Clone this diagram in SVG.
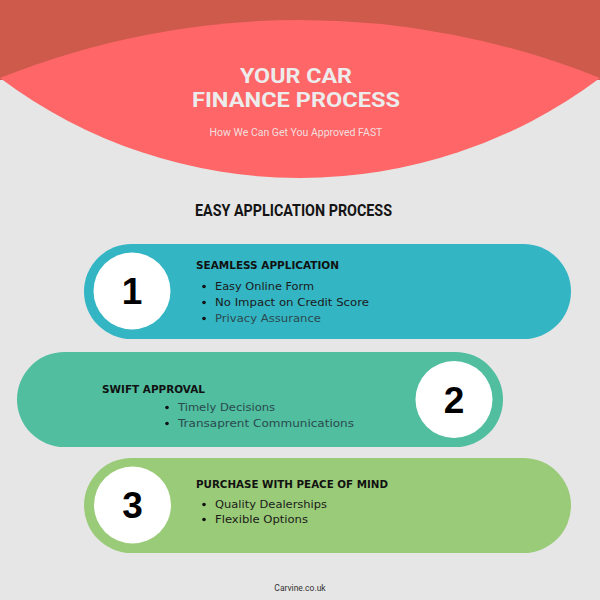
<svg xmlns="http://www.w3.org/2000/svg" width="600" height="600" viewBox="0 0 600 600">
<style>
.title{font-family:Roboto,"Liberation Sans",sans-serif;font-weight:700;font-size:20.5px;fill:#ececec}
.sub{font-family:Roboto,"Liberation Sans",sans-serif;font-size:10.5px;fill:#f3dede;text-anchor:middle}
.sect{font-family:Roboto,"Liberation Sans",sans-serif;font-weight:700;font-size:17px;fill:#141414}
.head{font-family:"DejaVu Sans",sans-serif;font-weight:700;font-size:10.5px;fill:#111}
.item{font-family:"DejaVu Sans",sans-serif;font-size:11px;fill:#1a1a1a}
.soft{fill:#2a4a4e}
.num{font-family:"Liberation Sans",Arial,sans-serif;font-weight:700;font-size:37px;fill:#000;text-anchor:middle}
.dot{fill:#111}
.badge{fill:#fff}
.foot{font-family:Roboto,"Liberation Sans",sans-serif;font-size:8.5px;fill:#333;text-anchor:middle}
</style>
<rect width="600" height="600" fill="#e6e6e6"/>
<g id="header">
<rect x="0" y="0" width="600" height="80" fill="#cd5a4b"/>
<path d="M0,78 A805,805 0 0 1 600,78 A500,500 0 0 1 0,78 Z" fill="#fe6667"/>
<text class="title" x="240" y="82.5" textLength="112" lengthAdjust="spacingAndGlyphs">YOUR CAR</text>
<text class="title" x="192" y="107" textLength="208" lengthAdjust="spacingAndGlyphs">FINANCE PROCESS</text>
<text class="sub" x="296" y="136">How We Can Get You Approved FAST</text>
</g>
<g id="section-title">
<text class="sect" x="195" y="216" textLength="197" lengthAdjust="spacingAndGlyphs">EASY APPLICATION PROCESS</text>
</g>
<g id="connectors"></g>
<g id="step1">
<rect x="84" y="244" width="487" height="95" rx="47.5" fill="#34b5c4"/>
<circle class="badge" cx="132" cy="291" r="38.5"/>
<text class="num" x="132" y="304">1</text>
<text class="head" x="196" y="269" textLength="143" lengthAdjust="spacingAndGlyphs">SEAMLESS APPLICATION</text>
<circle class="dot" cx="204" cy="286.5" r="1.8"/>
<text class="item" x="215" y="290" textLength="99" lengthAdjust="spacingAndGlyphs">Easy Online Form</text>
<circle class="dot" cx="204" cy="302.5" r="1.8"/>
<text class="item" x="215" y="306" textLength="154" lengthAdjust="spacingAndGlyphs">No Impact on Credit Score</text>
<circle class="dot" cx="204" cy="318.5" r="1.8"/>
<text class="item soft" x="215" y="322" textLength="106" lengthAdjust="spacingAndGlyphs">Privacy Assurance</text>
</g>
<g id="step2">
<rect x="17" y="352" width="486" height="95" rx="47.5" fill="#50be9f"/>
<circle class="badge" cx="454" cy="399.5" r="38.5"/>
<text class="num" x="454" y="413">2</text>
<text class="head" x="102" y="393" textLength="103" lengthAdjust="spacingAndGlyphs">SWIFT APPROVAL</text>
<circle class="dot" cx="167" cy="407.5" r="1.8"/>
<text class="item soft" x="178" y="411" textLength="97" lengthAdjust="spacingAndGlyphs">Timely Decisions</text>
<circle class="dot" cx="167" cy="423.5" r="1.8"/>
<text class="item soft" x="178" y="427" textLength="176" lengthAdjust="spacingAndGlyphs">Transaprent Communications</text>
</g>
<g id="step3">
<rect x="84" y="458" width="487" height="95" rx="47.5" fill="#9acb78"/>
<circle class="badge" cx="132.5" cy="505" r="38.5"/>
<text class="num" x="132.5" y="518">3</text>
<text class="head" x="196" y="488" textLength="192" lengthAdjust="spacingAndGlyphs">PURCHASE WITH PEACE OF MIND</text>
<circle class="dot" cx="204" cy="504.5" r="1.8"/>
<text class="item" x="215" y="508" textLength="112" lengthAdjust="spacingAndGlyphs">Quality Dealerships</text>
<circle class="dot" cx="204" cy="519.5" r="1.8"/>
<text class="item" x="215" y="523" textLength="93" lengthAdjust="spacingAndGlyphs">Flexible Options</text>
</g>
<g id="footer">
<text class="foot" x="300" y="591">Carvine.co.uk</text>
</g>
</svg>
